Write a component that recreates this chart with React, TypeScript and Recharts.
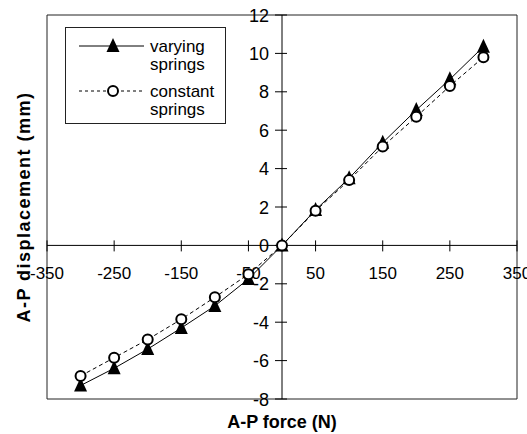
import {
  LineChart,
  Line,
  XAxis,
  YAxis,
  ReferenceLine,
  ReferenceArea,
  ReferenceDot,
  Legend,
} from "recharts";

const FONT = '"Liberation Sans", Arial, sans-serif';

// A-P force (N)
const forces = [-300, -250, -200, -150, -100, -50, 0, 50, 100, 150, 200, 250, 300];
// A-P displacement (mm)
const varyingSprings = [-7.3, -6.4, -5.4, -4.3, -3.15, -1.75, 0, 1.85, 3.5, 5.35, 7.05, 8.65, 10.35];
const constantSprings = [-6.8, -5.85, -4.9, -3.85, -2.7, -1.5, 0, 1.8, 3.4, 5.15, 6.7, 8.3, 9.8];

const xTicks = [-350, -250, -150, -50, 50, 150, 250, 350];
const yTicks = [-8, -6, -4, -2, 0, 2, 4, 6, 8, 10, 12];

const seriesOrder = ["varying", "constant"];

const data = forces.map((x, i) => ({
  x,
  varying: varyingSprings[i],
  constant: constantSprings[i],
}));

function Triangle({ cx, cy }: { cx: number; cy: number }) {
  return <path d={`M${cx},${cy - 8} L${cx - 6.5},${cy + 6} L${cx + 6.5},${cy + 6} Z`} fill="#000" />;
}

function Ring({ cx, cy }: { cx: number; cy: number }) {
  return <circle cx={cx} cy={cy} r={5} fill="#fff" stroke="#000" strokeWidth={2} />;
}

function XTick({ cx, cy, label }: { cx: number; cy: number; label: string }) {
  return (
    <g>
      <line x1={cx} x2={cx} y1={cy - 5} y2={cy + 6} stroke="#000" />
      <text x={cx} y={cy + 34} textAnchor="middle" fontSize={17} fontFamily={FONT} fill="#000">
        {label}
      </text>
    </g>
  );
}

function YTick({ cx, cy, label }: { cx: number; cy: number; label: string }) {
  return (
    <g>
      <line x1={cx - 7} x2={cx + 5} y1={cy} y2={cy} stroke="#000" />
      <text x={cx - 13} y={cy + 6.5} textAnchor="end" fontSize={18} fontFamily={FONT} fill="#000">
        {label}
      </text>
    </g>
  );
}

function LegendBox({ payload }: any) {
  const items = [...(payload || [])].sort(
    (a: any, b: any) => seriesOrder.indexOf(a.dataKey) - seriesOrder.indexOf(b.dataKey)
  );
  return (
    <svg width={159} height={95} style={{ display: "block" }}>
      {items.map((item: any, i: number) => {
        const cy = 18 + i * 45;
        const words = String(item.value).split(" ");
        const dashed = item.dataKey === "constant";
        return (
          <g key={String(item.value)}>
            <line
              x1={13}
              x2={78}
              y1={cy}
              y2={cy}
              stroke="#000"
              strokeDasharray={dashed ? "3 3" : undefined}
            />
            {dashed ? <Ring cx={47} cy={cy} /> : <Triangle cx={47} cy={cy} />}
            {words.map((w: string, j: number) => (
              <text key={w} x={84} y={cy + 6 + j * 18} fontSize={17} fontFamily={FONT} fill="#000">
                {w}
              </text>
            ))}
          </g>
        );
      })}
    </svg>
  );
}

export default function App() {
  return (
    <div style={{ position: "absolute", left: 0, top: 0, background: "#fff" }}>
      <LineChart width={527} height={434} data={data} margin={{ top: 15, right: 10, left: 0, bottom: 0 }}>
        <XAxis
          type="number"
          dataKey="x"
          domain={[-350, 350]}
          ticks={xTicks}
          tick={false}
          tickLine={false}
          axisLine={false}
          height={35}
          label={{
            value: "A-P force (N)",
            position: "insideBottom",
            offset: 6,
            style: { fontFamily: FONT, fontSize: 18, fontWeight: "bold", fill: "#000" },
          }}
        />
        <YAxis
          type="number"
          domain={[-8, 12]}
          ticks={yTicks}
          tick={false}
          tickLine={false}
          axisLine={false}
          width={47}
          label={{
            value: "A-P displacement (mm)",
            angle: -90,
            position: "insideLeft",
            offset: 24,
            style: {
              fontFamily: FONT,
              fontSize: 18,
              fontWeight: "bold",
              fill: "#000",
              textAnchor: "middle",
              letterSpacing: 1.5,
            },
          }}
        />
        <ReferenceArea x1={-350} x2={350} y1={-8} y2={12} fill="none" stroke="#222" strokeWidth={1} />
        <ReferenceLine y={0} stroke="#000" />
        <ReferenceLine x={0} stroke="#000" />
        {xTicks.map((t) => (
          <ReferenceDot
            key={`x${t}`}
            x={t}
            y={0}
            ifOverflow="visible"
            shape={(p: any) => <XTick cx={p.cx} cy={p.cy} label={String(t)} />}
          />
        ))}
        {yTicks.map((t) => (
          <ReferenceDot
            key={`y${t}`}
            x={0}
            y={t}
            ifOverflow="visible"
            shape={(p: any) => <YTick cx={p.cx} cy={p.cy} label={String(t)} />}
          />
        ))}
        <Legend
          verticalAlign="middle"
          align="center"
          layout="vertical"
          content={(props: any) => <LegendBox {...props} />}
          wrapperStyle={{ left: 65, top: 27, width: 159, height: 95, border: "1px solid #222", background: "#fff" }}
        />
        <Line
          dataKey="varying"
          name="varying springs"
          stroke="#000"
          strokeWidth={1}
          isAnimationActive={false}
          dot={(p: any) => <Triangle key={`v${p.index}`} cx={p.cx} cy={p.cy} />}
        />
        <Line
          dataKey="constant"
          name="constant springs"
          stroke="#000"
          strokeWidth={1}
          strokeDasharray="4 3"
          isAnimationActive={false}
          dot={(p: any) => <Ring key={`c${p.index}`} cx={p.cx} cy={p.cy} />}
        />
      </LineChart>
    </div>
  );
}
